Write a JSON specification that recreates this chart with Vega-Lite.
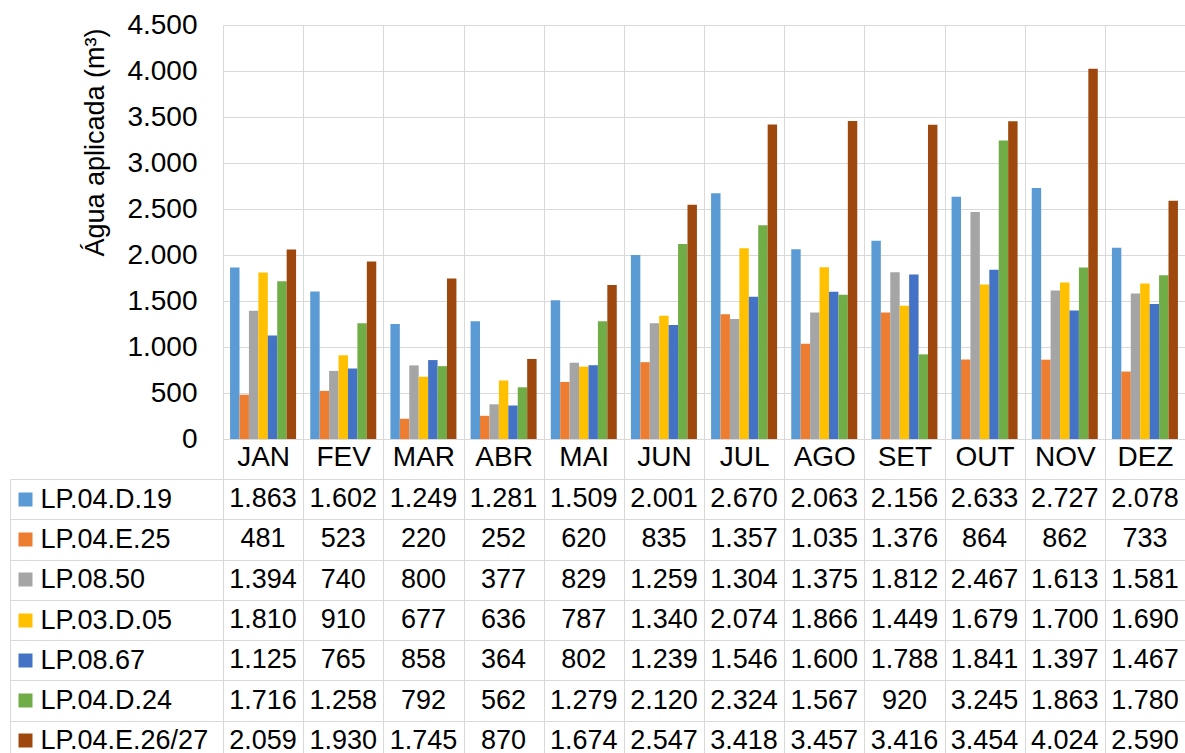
{
  "$schema": "https://vega.github.io/schema/vega-lite/v6.json",
  "padding": {"left": 9, "top": 11, "right": 0, "bottom": 0},
  "config": {
    "view": {"stroke": null},
    "font": "Liberation Sans",
    "locale": {"number": {"decimal": ",", "thousands": ".", "grouping": [3], "currency": ["R$", ""]}}
  },
  "data": {"values": [
    {"m":"JAN","s":"LP.04.D.19","v":1863},{"m":"FEV","s":"LP.04.D.19","v":1602},{"m":"MAR","s":"LP.04.D.19","v":1249},{"m":"ABR","s":"LP.04.D.19","v":1281},{"m":"MAI","s":"LP.04.D.19","v":1509},{"m":"JUN","s":"LP.04.D.19","v":2001},{"m":"JUL","s":"LP.04.D.19","v":2670},{"m":"AGO","s":"LP.04.D.19","v":2063},{"m":"SET","s":"LP.04.D.19","v":2156},{"m":"OUT","s":"LP.04.D.19","v":2633},{"m":"NOV","s":"LP.04.D.19","v":2727},{"m":"DEZ","s":"LP.04.D.19","v":2078},
    {"m":"JAN","s":"LP.04.E.25","v":481},{"m":"FEV","s":"LP.04.E.25","v":523},{"m":"MAR","s":"LP.04.E.25","v":220},{"m":"ABR","s":"LP.04.E.25","v":252},{"m":"MAI","s":"LP.04.E.25","v":620},{"m":"JUN","s":"LP.04.E.25","v":835},{"m":"JUL","s":"LP.04.E.25","v":1357},{"m":"AGO","s":"LP.04.E.25","v":1035},{"m":"SET","s":"LP.04.E.25","v":1376},{"m":"OUT","s":"LP.04.E.25","v":864},{"m":"NOV","s":"LP.04.E.25","v":862},{"m":"DEZ","s":"LP.04.E.25","v":733},
    {"m":"JAN","s":"LP.08.50","v":1394},{"m":"FEV","s":"LP.08.50","v":740},{"m":"MAR","s":"LP.08.50","v":800},{"m":"ABR","s":"LP.08.50","v":377},{"m":"MAI","s":"LP.08.50","v":829},{"m":"JUN","s":"LP.08.50","v":1259},{"m":"JUL","s":"LP.08.50","v":1304},{"m":"AGO","s":"LP.08.50","v":1375},{"m":"SET","s":"LP.08.50","v":1812},{"m":"OUT","s":"LP.08.50","v":2467},{"m":"NOV","s":"LP.08.50","v":1613},{"m":"DEZ","s":"LP.08.50","v":1581},
    {"m":"JAN","s":"LP.03.D.05","v":1810},{"m":"FEV","s":"LP.03.D.05","v":910},{"m":"MAR","s":"LP.03.D.05","v":677},{"m":"ABR","s":"LP.03.D.05","v":636},{"m":"MAI","s":"LP.03.D.05","v":787},{"m":"JUN","s":"LP.03.D.05","v":1340},{"m":"JUL","s":"LP.03.D.05","v":2074},{"m":"AGO","s":"LP.03.D.05","v":1866},{"m":"SET","s":"LP.03.D.05","v":1449},{"m":"OUT","s":"LP.03.D.05","v":1679},{"m":"NOV","s":"LP.03.D.05","v":1700},{"m":"DEZ","s":"LP.03.D.05","v":1690},
    {"m":"JAN","s":"LP.08.67","v":1125},{"m":"FEV","s":"LP.08.67","v":765},{"m":"MAR","s":"LP.08.67","v":858},{"m":"ABR","s":"LP.08.67","v":364},{"m":"MAI","s":"LP.08.67","v":802},{"m":"JUN","s":"LP.08.67","v":1239},{"m":"JUL","s":"LP.08.67","v":1546},{"m":"AGO","s":"LP.08.67","v":1600},{"m":"SET","s":"LP.08.67","v":1788},{"m":"OUT","s":"LP.08.67","v":1841},{"m":"NOV","s":"LP.08.67","v":1397},{"m":"DEZ","s":"LP.08.67","v":1467},
    {"m":"JAN","s":"LP.04.D.24","v":1716},{"m":"FEV","s":"LP.04.D.24","v":1258},{"m":"MAR","s":"LP.04.D.24","v":792},{"m":"ABR","s":"LP.04.D.24","v":562},{"m":"MAI","s":"LP.04.D.24","v":1279},{"m":"JUN","s":"LP.04.D.24","v":2120},{"m":"JUL","s":"LP.04.D.24","v":2324},{"m":"AGO","s":"LP.04.D.24","v":1567},{"m":"SET","s":"LP.04.D.24","v":920},{"m":"OUT","s":"LP.04.D.24","v":3245},{"m":"NOV","s":"LP.04.D.24","v":1863},{"m":"DEZ","s":"LP.04.D.24","v":1780},
    {"m":"JAN","s":"LP.04.E.26/27","v":2059},{"m":"FEV","s":"LP.04.E.26/27","v":1930},{"m":"MAR","s":"LP.04.E.26/27","v":1745},{"m":"ABR","s":"LP.04.E.26/27","v":870},{"m":"MAI","s":"LP.04.E.26/27","v":1674},{"m":"JUN","s":"LP.04.E.26/27","v":2547},{"m":"JUL","s":"LP.04.E.26/27","v":3418},{"m":"AGO","s":"LP.04.E.26/27","v":3457},{"m":"SET","s":"LP.04.E.26/27","v":3416},{"m":"OUT","s":"LP.04.E.26/27","v":3454},{"m":"NOV","s":"LP.04.E.26/27","v":4024},{"m":"DEZ","s":"LP.04.E.26/27","v":2590}
  ]},
  "bounds": "flush",
  "spacing": 40,
  "vconcat": [
    {
      "width": 962,
      "height": 414,
      "mark": {"type": "bar"},
      "encoding": {
        "x": {
          "field": "m", "type": "nominal",
          "sort": ["JAN","FEV","MAR","ABR","MAI","JUN","JUL","AGO","SET","OUT","NOV","DEZ"],
          "scale": {"type": "band", "paddingInner": 0, "paddingOuter": 0},
          "axis": {
            "title": null, "labelAngle": 0, "labelFontSize": 28, "labelColor": "black",
            "labelPadding": -21.5, "labelBaseline": "middle",
            "tickBand": "extent", "tickSize": 40, "tickColor": "#d9d9d9", "tickWidth": 1,
            "domainColor": "#d9d9d9", "grid": true, "gridColor": "#d9d9d9", "gridWidth": 1
          }
        },
        "xOffset": {
          "field": "s", "type": "nominal",
          "sort": ["LP.04.D.19","LP.04.E.25","LP.08.50","LP.03.D.05","LP.08.67","LP.04.D.24","LP.04.E.26/27"],
          "scale": {"paddingInner": 0, "paddingOuter": 0.75}
        },
        "y": {
          "field": "v", "type": "quantitative",
          "scale": {"domain": [0, 4500]},
          "axis": {
            "values": [0,500,1000,1500,2000,2500,3000,3500,4000,4500],
            "format": ",d", "labelFontSize": 28, "labelColor": "black", "labelPadding": 26,
            "ticks": false, "domain": false, "gridColor": "#d9d9d9", "gridWidth": 1,
            "title": "Água aplicada (m³)", "titleFontSize": 27, "titleFontWeight": "normal",
            "titleColor": "black", "titleX": -120, "titleY": 117, "titleAngle": -90,
            "titleAlign": "center", "titleBaseline": "alphabetic"
          }
        },
        "color": {
          "field": "s", "type": "nominal",
          "scale": {
            "domain": ["LP.04.D.19","LP.04.E.25","LP.08.50","LP.03.D.05","LP.08.67","LP.04.D.24","LP.04.E.26/27"],
            "range": ["#5B9BD5","#ED7D31","#A5A5A5","#FFC000","#4472C4","#70AD47","#9E480E"]
          },
          "legend": null
        }
      }
    },
    {
      "width": 962,
      "height": 282,
      "layer": [
        {
          "mark": {"type": "text", "fontSize": 27, "color": "black"},
          "encoding": {
            "x": {
              "field": "m", "type": "nominal",
              "sort": ["JAN","FEV","MAR","ABR","MAI","JUN","JUL","AGO","SET","OUT","NOV","DEZ"],
              "scale": {"type": "band", "paddingInner": 0, "paddingOuter": 0},
              "axis": {"title": null, "labels": false, "ticks": false, "domain": false, "grid": true, "tickBand": "extent", "gridColor": "#d9d9d9", "gridWidth": 1}
            },
            "y": {
              "field": "s", "type": "nominal",
              "sort": ["LP.04.D.19","LP.04.E.25","LP.08.50","LP.03.D.05","LP.08.67","LP.04.D.24","LP.04.E.26/27"],
              "scale": {"type": "band", "paddingInner": 0, "paddingOuter": 0},
              "axis": {
                "title": null, "orient": "left", "grid": true, "gridColor": "#d9d9d9", "gridWidth": 1,
                "tickBand": "extent", "tickSize": 213, "tickColor": "#d9d9d9", "tickWidth": 1,
                "domain": false, "labelAlign": "left", "labelPadding": -30, "labelFontSize": 27,
                "labelColor": "black", "labelBaseline": "middle", "labelLimit": 0
              }
            },
            "text": {"field": "v", "type": "quantitative", "format": ",d"}
          }
        },
        {
          "mark": {"type": "text"},
          "encoding": {
            "y": {
              "field": "s", "type": "nominal",
              "sort": ["LP.04.D.19","LP.04.E.25","LP.08.50","LP.03.D.05","LP.08.67","LP.04.D.24","LP.04.E.26/27"],
              "axis": {
                "title": null, "orient": "left", "offset": 191, "grid": false, "domain": false, "labels": false,
                "tickSize": 14, "tickWidth": 14, "tickCap": "butt",
                "tickColor": {
                  "condition": [
                    {"test": "datum.value === 'LP.04.D.19'", "value": "#5B9BD5"},
                    {"test": "datum.value === 'LP.04.E.25'", "value": "#ED7D31"},
                    {"test": "datum.value === 'LP.08.50'", "value": "#A5A5A5"},
                    {"test": "datum.value === 'LP.03.D.05'", "value": "#FFC000"},
                    {"test": "datum.value === 'LP.08.67'", "value": "#4472C4"},
                    {"test": "datum.value === 'LP.04.D.24'", "value": "#70AD47"}
                  ],
                  "value": "#9E480E"
                }
              }
            },
            "text": {"value": ""}
          }
        },
        {
          "mark": {"type": "text"},
          "encoding": {
            "y": {
              "field": "s", "type": "nominal",
              "sort": ["LP.04.D.19","LP.04.E.25","LP.08.50","LP.03.D.05","LP.08.67","LP.04.D.24","LP.04.E.26/27"],
              "axis": {
                "title": null, "orient": "left", "offset": 213, "grid": false, "labels": false, "ticks": false,
                "domain": true, "domainColor": "#d9d9d9", "domainWidth": 1
              }
            },
            "text": {"value": ""}
          }
        }
      ],
      "resolve": {"axis": {"y": "independent"}}
    }
  ]
}
